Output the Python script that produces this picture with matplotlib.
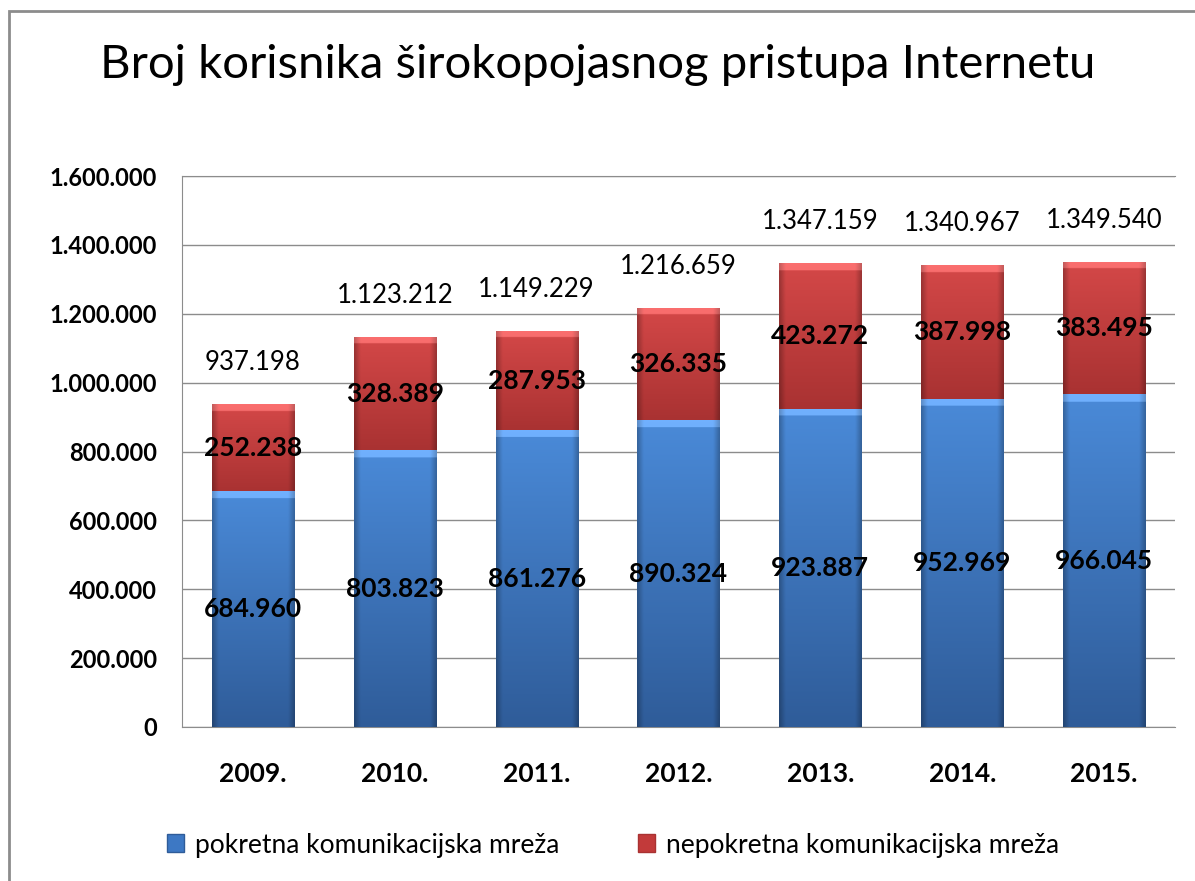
import matplotlib
matplotlib.use('Agg')
import matplotlib.pyplot as plt
import numpy as np
from matplotlib.colors import to_rgb
from matplotlib.patches import Rectangle

years = ['2009.', '2010.', '2011.', '2012.', '2013.', '2014.', '2015.']
mobile = [684960, 803823, 861276, 890324, 923887, 952969, 966045]
fixed = [252238, 328389, 287953, 326335, 423272, 387998, 383495]
total_labels = ['937.198', '1.123.212', '1.149.229', '1.216.659',
                '1.347.159', '1.340.967', '1.349.540']
y_ticks = [0, 200000, 400000, 600000, 800000, 1000000, 1200000, 1400000, 1600000]

plt.rcParams['font.family'] = ['Lato', 'DejaVu Sans']


def dots(v):
    return f'{int(v):,}'.replace(',', '.')


def shade(ax, bars, top_col, bot_col, strip_h=20000):
    # fake the excel bevel: gradient across and down the bar, light strip on top
    for b in bars:
        x0, y0 = b.get_x(), b.get_y()
        w, h = b.get_width(), b.get_height()
        ny, nx = 300, 60
        yy = np.linspace(0, 1, ny)[:, None]          # 0 bottom .. 1 top
        xx = np.linspace(-1, 1, nx)[None, :]
        top = np.array(to_rgb(top_col))
        bot = np.array(to_rgb(bot_col))
        img = bot + (top - bot) * yy[..., None]
        side = 1 - 0.25 * np.clip(np.abs(xx) - 0.85, 0, None)[..., None] / 0.15
        img = img * side
        strip = (yy > 1 - strip_h / h)[..., None] * np.ones((1, nx, 1))
        img = img * (1 - strip) + np.clip(img + 0.15, 0, 1) * strip
        im = ax.imshow(img[::-1], extent=[x0, x0 + w, y0, y0 + h],
                       aspect='auto', zorder=3, interpolation='bilinear')
        im.set_clip_path(b)


fig = plt.figure(figsize=(11.95, 8.81), dpi=100)
ax = fig.add_axes([182 / 1195, 1 - 727 / 881, 993 / 1195, 551 / 881])

x = np.arange(len(years))
b1 = ax.bar(x, mobile, width=0.58, color='#3d78c4', zorder=2)
b2 = ax.bar(x, fixed, width=0.58, bottom=mobile, color='#c23a3a', zorder=2)
shade(ax, b1, '#4a8ad8', '#2f5c99')
shade(ax, b2, '#d44848', '#a93232')

for i in range(len(years)):
    ax.text(x[i], mobile[i] / 2, dots(mobile[i]), ha='center', va='center',
            fontsize=19, fontweight='bold', zorder=5)
    ax.text(x[i], mobile[i] + fixed[i] / 2, dots(fixed[i]), ha='center',
            va='center', fontsize=19, fontweight='bold', zorder=5)
    ax.annotate(total_labels[i], (x[i], mobile[i] + fixed[i]),
                xytext=(0, 30), textcoords='offset points', ha='center',
                va='center', fontsize=18.5)

ax.set_xlim(-0.5, len(years) - 0.5)
ax.set_ylim(0, 1600000)
ax.set_yticks(y_ticks)
ax.set_yticklabels([dots(v) for v in y_ticks], fontsize=17, fontweight='bold')
ax.set_xticks(x)
ax.set_xticklabels(years, fontsize=19, fontweight='bold')
ax.tick_params(axis='both', length=0)
ax.tick_params(axis='x', pad=25)
ax.tick_params(axis='y', pad=18)
ax.grid(axis='y', color='#8c8c8c', linewidth=1, zorder=0)
ax.set_axisbelow(True)
ax.spines['right'].set_visible(False)
for s in ['left', 'top', 'bottom']:
    ax.spines[s].set_color('#8c8c8c')

fig.text(0.5, 1 - 65 / 881, 'Broj korisnika širokopojasnog pristupa Internetu',
         ha='center', va='center', fontsize=34)

h1 = Rectangle((0, 0), 1, 1, facecolor='#3d78c4', edgecolor='#2f5c99')
h2 = Rectangle((0, 0), 1, 1, facecolor='#c23a3a', edgecolor='#a93232')
fig.legend([h1, h2], ['pokretna komunikacijska mreža', 'nepokretna komunikacijska mreža'],
           loc='center', bbox_to_anchor=(613 / 1195, 1 - 845 / 881), ncol=2,
           frameon=False, fontsize=19, handlelength=0.65, handleheight=0.65,
           columnspacing=3.0, handletextpad=0.4)

fig.patches.append(Rectangle((9 / 1195, -0.2), 1.2, 1 - 11 / 881 + 0.2,
                             transform=fig.transFigure, fill=False,
                             edgecolor='#8c8c8c', linewidth=2))

fig.savefig('out.png', dpi=100)
